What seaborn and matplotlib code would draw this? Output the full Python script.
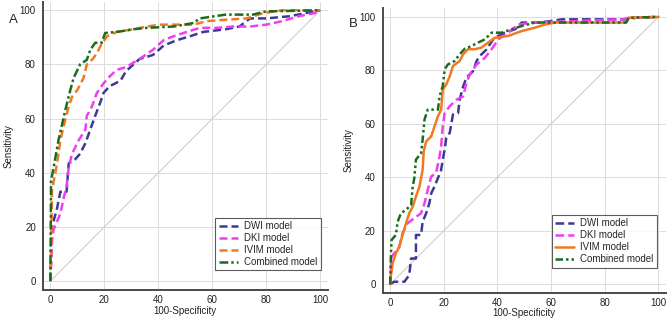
import numpy as np
import pandas as pd
import matplotlib
matplotlib.use("Agg")
import matplotlib.pyplot as plt
import seaborn as sns
from matplotlib.ticker import MultipleLocator

# ---------------- data ----------------
# Panel A
a_dwi_x = [0, 0.6, 2.5, 3.7, 6, 6.8, 9.2, 11, 13, 14.8, 16.6, 18.5, 19.7, 22, 26, 28, 33, 38, 42, 47, 51.7, 56.6, 65, 70, 74, 80, 88.7, 94.8, 100]
a_dwi_y = [0, 20, 27, 33, 33, 43.5, 45, 47, 51, 56, 61, 66, 69.5, 72, 74, 77.5, 82, 83.5, 87, 89, 90.4, 92, 93, 94, 97, 97, 97.8, 99, 100]
a_dki_x = [0, 0.6, 1.2, 3.7, 5, 6, 6.8, 8, 10.5, 13, 13.5, 15.4, 17.2, 19.7, 22, 24.6, 28, 33, 38, 42, 45.6, 50.5, 55.4, 61.6, 67.7, 74, 80, 86, 92, 100]
a_dki_y = [0, 15, 19, 25, 31, 35, 42, 47, 52, 56, 61, 64.5, 69.4, 73, 75.6, 78, 79, 82, 85.4, 89, 90.4, 92, 93.5, 93.5, 94, 94, 94.7, 96, 97.8, 99.4]
a_ivim_x = [0, 0.25, 0.6, 2.5, 3.7, 5.5, 6.8, 8, 10, 12.3, 13.5, 15.4, 17.2, 18.5, 21, 24.6, 30.8, 35.7, 40.6, 48, 53, 58, 65, 72.7, 79, 86, 100]
a_ivim_y = [0, 7.7, 33.6, 43.5, 52, 59.5, 64.4, 68, 70.6, 75, 80, 81.7, 84, 86.7, 90.4, 92, 93, 94, 94.7, 94.7, 94.7, 96, 96.5, 97, 99, 100, 100]
a_comb_x = [0, 0.25, 1.2, 3, 5.5, 7.4, 8.6, 11, 13.5, 14.8, 16.6, 19, 20.3, 25.9, 30.8, 35.7, 45.6, 53, 55.4, 65, 75, 80, 100]
a_comb_y = [0, 37, 42, 52, 63, 70.6, 75, 80, 81.7, 85.4, 88, 88, 91.6, 92.2, 93, 93.5, 94, 95.3, 97, 98.4, 98.4, 99.6, 100]

# Panel B
b_dwi_x = [0, 1.5, 5.3, 7.1, 7.8, 9.6, 9.6, 11.5, 12.1, 13.4, 14.6, 15.3, 16.5, 17.8, 19, 19.6, 20.3, 20.9, 22.2, 23.4, 25.3, 25.9, 27.2, 28.4, 30.9, 32.2, 33.4, 35.9, 38.4, 40.3, 42.8, 46.6, 49, 55.3, 60.3, 64, 89, 91.6, 100]
b_dwi_y = [0, 0.9, 0.9, 3.4, 9.6, 9.6, 18.4, 18.4, 23.4, 26.5, 30.3, 34, 36.5, 39.7, 42.8, 46.6, 50.3, 54.7, 56.6, 63.5, 64, 69, 74, 77.2, 79.7, 83.5, 85.4, 87.8, 91.6, 92.9, 94.1, 95.4, 97.9, 97.9, 98.5, 99.1, 99.1, 99.7, 100]
b_dki_x = [0, 0.5, 1.5, 3.4, 4.6, 6.5, 9, 11.5, 12.8, 14, 15.3, 17.1, 18.4, 19, 19.6, 20.3, 22.2, 24.7, 27.2, 28.4, 29.7, 32.2, 35.3, 37.8, 40.3, 44, 47.8, 54, 86.6, 89, 100]
b_dki_y = [0, 10.3, 11.5, 14, 19, 22.8, 24.7, 26.5, 30.3, 35.3, 40.3, 41.6, 47.8, 51.6, 59, 64, 66.6, 69, 70.3, 75.3, 78.5, 82.2, 84.7, 87.9, 91.6, 94.1, 97.2, 97.9, 99.1, 99.7, 100]
b_ivim_x = [0, 0.25, 0.9, 2.1, 3.4, 4.6, 5.9, 7.1, 8.4, 9.6, 10.9, 12.1, 12.5, 13.4, 15.3, 16.5, 17.8, 19, 19.6, 20.9, 22.2, 23.4, 25.9, 27.2, 29, 31.5, 34, 36.5, 39, 44, 49, 54, 57.8, 61.6, 87.9, 89, 100]
b_ivim_y = [0, 2.8, 7.8, 11.5, 14, 18.4, 22.8, 26.5, 29, 32.8, 36.5, 42.8, 49.7, 53.4, 55.3, 59, 62.8, 65.3, 72.8, 74.7, 77.8, 81.6, 83.5, 86, 87.9, 87.9, 88.5, 90.4, 92.2, 92.9, 94.7, 96, 97.2, 97.9, 97.9, 99.7, 100]
b_comb_x = [0, 0.25, 0.5, 2.1, 2.8, 4, 5.9, 7.8, 8.4, 9, 9.6, 11.5, 12.1, 12.8, 14, 17.8, 18.4, 19.6, 20.3, 21.5, 24, 25.9, 27.8, 30.3, 32.8, 35.3, 37.8, 41.6, 45.3, 49, 54, 87.9, 89, 100]
b_comb_y = [0, 10.3, 16.5, 18.4, 23.4, 26.5, 27.8, 29.7, 36.5, 39.7, 46.6, 49, 54.1, 61.6, 65.3, 65.3, 70.3, 74.1, 80.4, 82.2, 83.5, 86, 88.1, 89.1, 90.4, 91.6, 94.1, 94.1, 95.4, 96.6, 97.9, 97.9, 99.7, 100]

labels = ["DWI model", "DKI model", "IVIM model", "Combined model"]
ticks = [0, 20, 40, 60, 80, 100]

colors = ["#3b3b96", "#f23cf2", "#f07a22", "#1d6b1d"]

# ---------------- figure ----------------
sns.set_style("white")
plt.rcParams["font.family"] = ["Liberation Sans", "DejaVu Sans"]

fig = plt.figure(figsize=(6.69, 3.22), dpi=100)
axA = fig.add_axes([0.064, 0.100, 0.426, 0.895])
axB = fig.add_axes([0.572, 0.091, 0.4235, 0.883])

panelA = [(a_dwi_x, a_dwi_y, (0, (3.2, 1.6))),
          (a_dki_x, a_dki_y, (0, (3.2, 1.6))),
          (a_ivim_x, a_ivim_y, (0, (3.2, 1.6))),
          (a_comb_x, a_comb_y, (0, (3.5, 1.2, 1.0, 1.2)))]
panelB = [(b_dwi_x, b_dwi_y, (0, (3.5, 1.6))),
          (b_dki_x, b_dki_y, (0, (3.5, 1.6))),
          (b_ivim_x, b_ivim_y, "-"),
          (b_comb_x, b_comb_y, (0, (3.0, 1.2, 1.0, 1.2, 1.0, 1.2)))]

setups = [(axA, panelA, (0.975, 0.25), (-0.056, -0.104)),
          (axB, panelB, (0.968, 0.273), (-0.053, -0.101))]

for ax, series, anchor, (xl_y, yl_x) in setups:
    ax.plot([0, 100], [0, 100], color="#cfc4c8", lw=0.7, zorder=1)
    for (xs, ys, ls), c, lab in zip(series, colors, labels):
        df = pd.DataFrame({"x": xs, "y": ys})
        sns.lineplot(data=df, x="x", y="y", ax=ax, color=c, lw=1.8,
                     linestyle=ls, sort=False, estimator=None, label=lab,
                     zorder=3)
    ax.set_xlim(-2.8, 102.8)
    ax.set_ylim(-3.2, 103.2)
    ax.set_xticks(ticks)
    ax.set_yticks(ticks)
    ax.xaxis.set_minor_locator(MultipleLocator(5))
    ax.yaxis.set_minor_locator(MultipleLocator(5))
    ax.grid(True, which="major", color="#dcdcdc", lw=0.7)
    ax.set_axisbelow(True)
    for s in ["top", "right"]:
        ax.spines[s].set_visible(False)
    for s in ["left", "bottom"]:
        ax.spines[s].set_color("#4a4a4a")
        ax.spines[s].set_linewidth(1.4)
    ax.tick_params(which="major", direction="in", length=5, width=1.1,
                   color="#4a4a4a", labelsize=7, labelcolor="#222222")
    ax.tick_params(axis="x", which="major", pad=3.5)
    ax.tick_params(axis="y", which="major", pad=5)
    ax.tick_params(which="minor", direction="in", length=2.5, width=0.9,
                   color="#4a4a4a")
    ax.set_xlabel("100-Specificity", fontsize=7, color="#222222")
    ax.set_ylabel("Sensitivity", fontsize=7, color="#222222")
    ax.xaxis.set_label_coords(0.5, xl_y)
    ax.yaxis.set_label_coords(yl_x, 0.5)
    leg = ax.legend(loc="upper right", bbox_to_anchor=anchor, borderaxespad=0,
                    fontsize=7, frameon=True, fancybox=False,
                    handlelength=2.0, handletextpad=0.6, labelspacing=0.2,
                    borderpad=0.35)
    leg.get_frame().set_edgecolor("#333333")
    leg.get_frame().set_linewidth(0.8)

fig.text(13 / 669, 1 - 20 / 322, "A", fontsize=9.5, va="center", ha="center")
fig.text(353 / 669, 1 - 24 / 322, "B", fontsize=9.5, va="center", ha="center")

fig.savefig("out.png", dpi=100)
